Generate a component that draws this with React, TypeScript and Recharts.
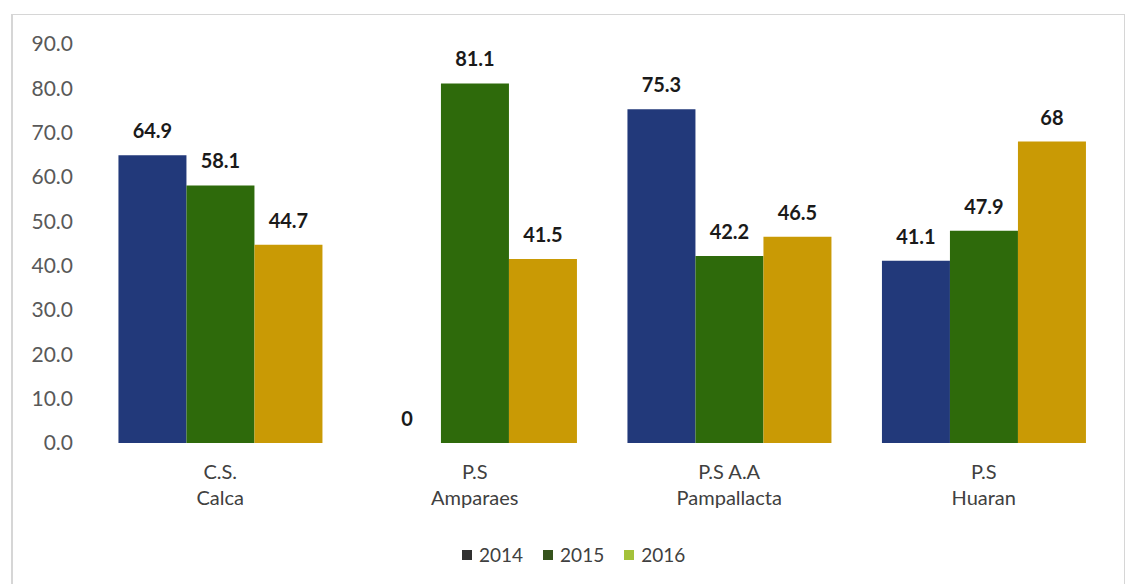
import React from "react";
import { BarChart, Bar, XAxis, YAxis, LabelList, Legend } from "recharts";

const categories = ["C.S.\nCalca", "P.S\nAmparaes", "P.S A.A\nPampallacta", "P.S\nHuaran"];
const values2014 = [64.9, 0, 75.3, 41.1];
const values2015 = [58.1, 81.1, 42.2, 47.9];
const values2016 = [44.7, 41.5, 46.5, 68];
const yTicks = [0, 10, 20, 30, 40, 50, 60, 70, 80, 90];
const seriesNames = ["2014", "2015", "2016"];
const barColors = ["#22397A", "#2E6A0B", "#C99A05"];
const legendColors = ["#303030", "#35531C", "#A4C23A"];

const data = categories.map((c, i) => ({
  name: c,
  "2014": values2014[i],
  "2015": values2015[i],
  "2016": values2016[i],
}));

const FONT = "Lato, 'Open Sans', sans-serif";

const CatTick = (props: any) => {
  const { x, y, payload } = props;
  const lines = String(payload.value).split("\n");
  return (
    <text x={x} y={y} textAnchor="middle" fill="#404040" fontSize={20} fontFamily={FONT}>
      {lines.map((l, i) => (
        <tspan key={i} x={x} dy={i === 0 ? 36 : 26}>
          {l}
        </tspan>
      ))}
    </text>
  );
};

const ValueLabel = (props: any) => {
  const { x, y, width, height, value } = props;
  if (value === undefined || value === null) return null;
  const h = Number(height) || 0;
  const top = h < 0 ? Number(y) + h : Number(y);
  return (
    <text
      x={Number(x) + Number(width) / 2}
      y={top - 17}
      textAnchor="middle"
      fill="#1a1a1a"
      fontSize={20}
      fontWeight="bold"
      fontFamily={FONT}
    >
      {String(value)}
    </text>
  );
};

const LegendContent = () => (
  <div style={{ display: "flex", alignItems: "center", fontFamily: FONT, fontSize: 19, color: "#404040" }}>
    {seriesNames.map((s, i) => (
      <div key={s} style={{ display: "flex", alignItems: "center", marginRight: 20 }}>
        <span style={{ display: "inline-block", width: 10, height: 10, background: legendColors[i], marginRight: 7 }} />
        <span>{s}</span>
      </div>
    ))}
  </div>
);

export default function App() {
  return (
    <div style={{ position: "absolute", left: 0, top: 0, width: 1129, height: 584, overflow: "hidden", background: "#fff" }}>
      <div style={{ position: "absolute", left: 11, top: 14, width: 1114, height: 600, border: "1px solid #d6d6d6", borderLeftWidth: 2, boxSizing: "border-box" }} />
      <div style={{ position: "absolute", left: 0, top: 0 }}>
        <BarChart width={1129} height={584} data={data} margin={{ top: 44, right: 18, bottom: 47, left: 0 }} barGap={0} barCategoryGap="10%">
          <XAxis dataKey="name" axisLine={false} tickLine={false} tickSize={0} tickMargin={0} height={70} tick={<CatTick />} interval={0} />
          <YAxis
            domain={[0, 90]}
            ticks={yTicks}
            width={93}
            axisLine={false}
            tickLine={false}
            tickSize={0}
            tickMargin={20}
            tickFormatter={(v: number) => v.toFixed(1)}
            tick={{ fill: "#595959", fontSize: 21, fontFamily: FONT }}
          />
          <Legend
            verticalAlign="bottom"
            content={<LegendContent />}
            wrapperStyle={{ position: "absolute", left: 462, top: 543, width: 300, height: 24 }}
          />
          {seriesNames.map((s, i) => (
            <Bar key={s} dataKey={s} fill={barColors[i]} isAnimationActive={false} minPointSize={0.01}>
              <LabelList dataKey={s} content={<ValueLabel />} />
            </Bar>
          ))}
        </BarChart>
      </div>
    </div>
  );
}
